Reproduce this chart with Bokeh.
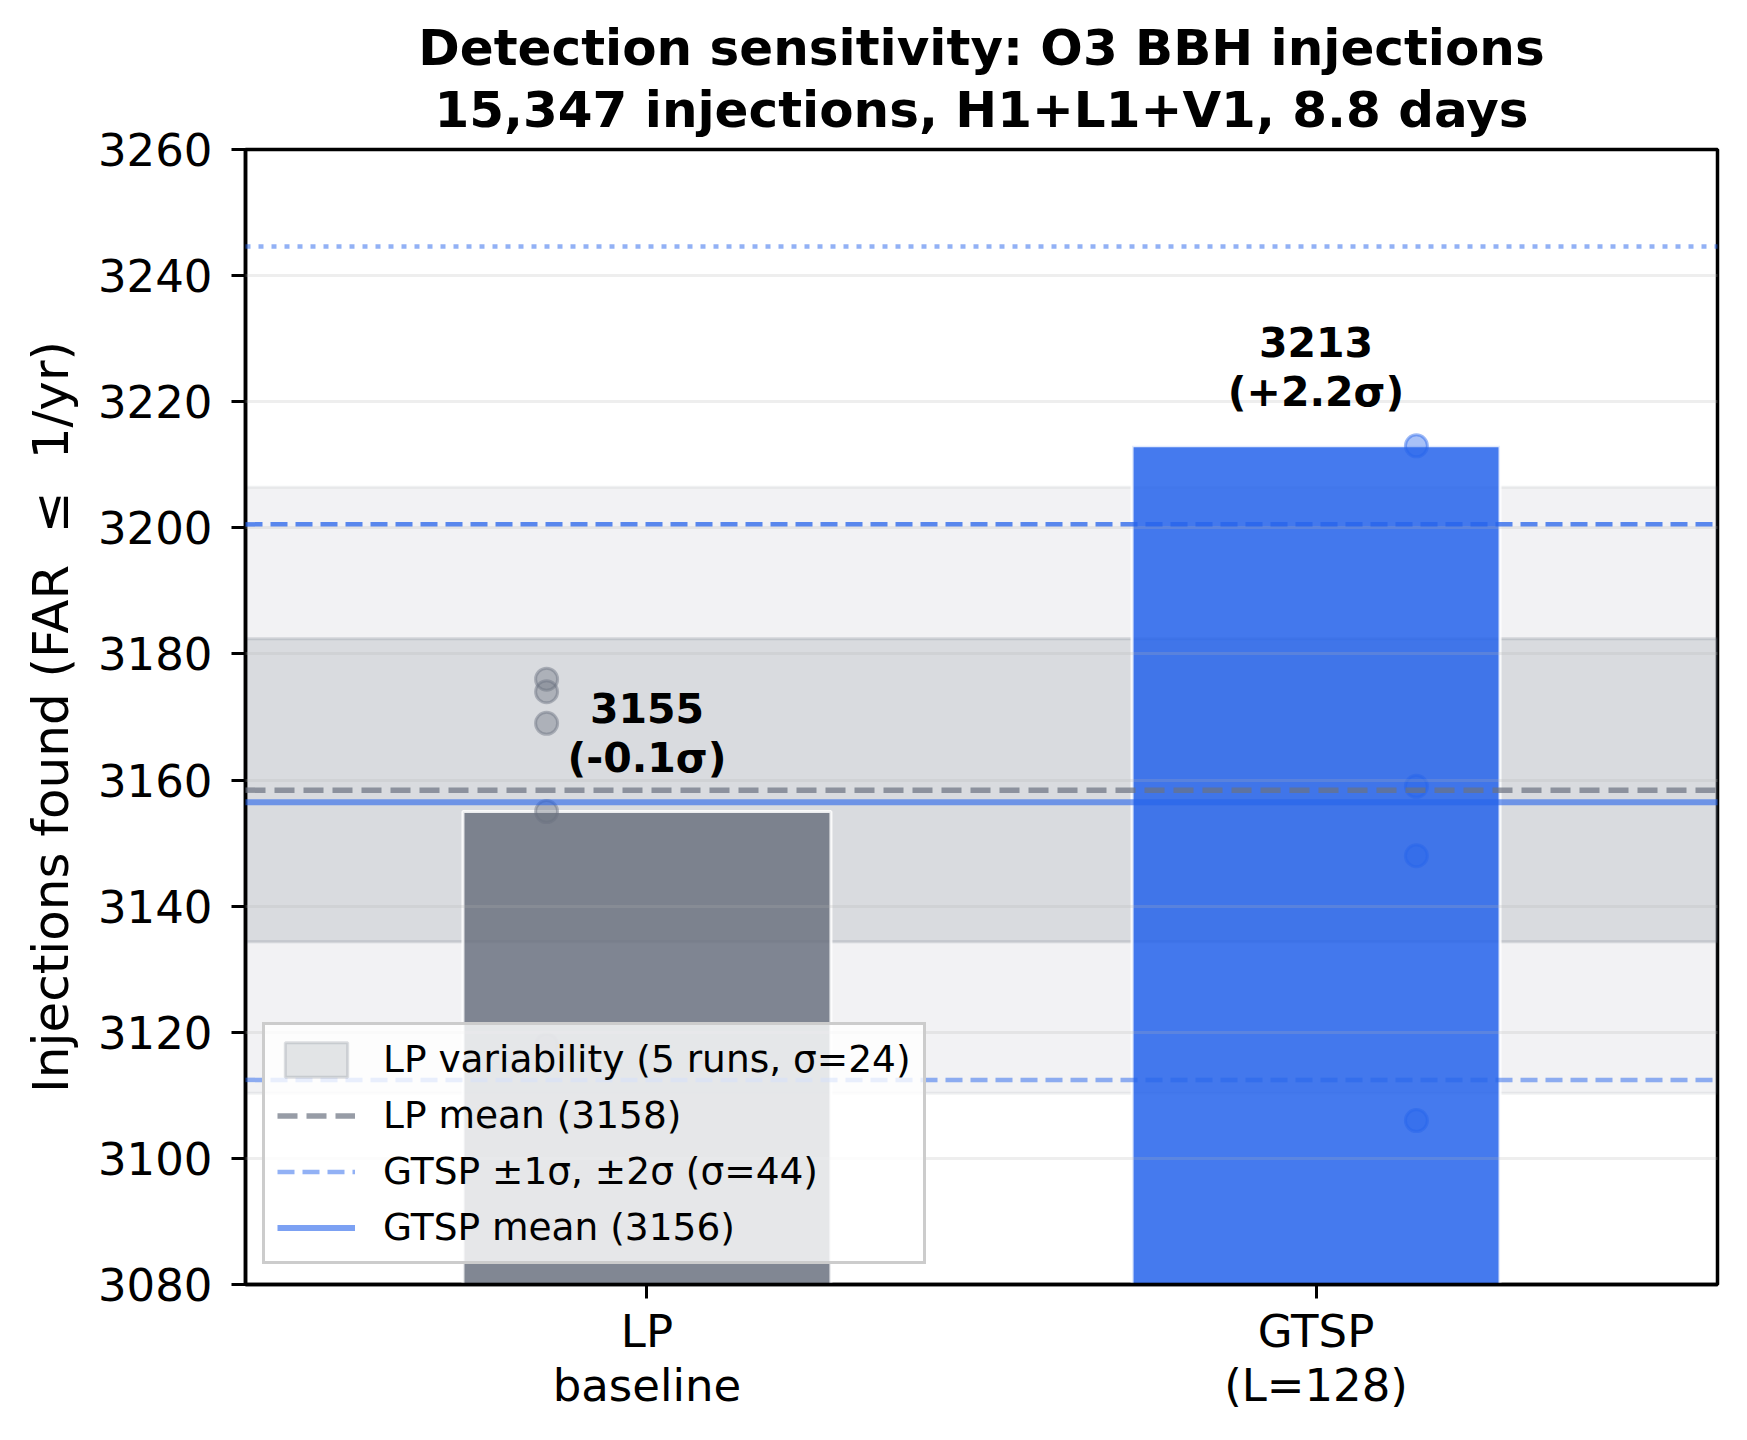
import numpy as np
from bokeh.plotting import figure
from bokeh.models import Range1d, FixedTicker, Legend, LegendItem, Title
from bokeh.embed import file_html
from bokeh.resources import INLINE
from bokeh.core.properties import value

# ---------------- data ----------------
cat_labels = ["LP\nbaseline", "GTSP\n(L=128)"]
cat_pos = [0, 1]
bar_values = [3155, 3213]
bar_labels = ["3155\n(-0.1σ)", "3213\n(+2.2σ)"]
lp_runs = [3176, 3174, 3169, 3155, 3118]
gtsp_runs = [3213, 3159, 3148, 3106]
legend_labels = ["LP variability (5 runs, σ=24)", "LP mean (3158)",
                 "GTSP ±1σ, ±2σ (σ=44)", "GTSP mean (3156)"]
y_ticks = [3080, 3100, 3120, 3140, 3160, 3180, 3200, 3220, 3240, 3260]
title_lines = ["Detection sensitivity: O3 BBH injections",
               "15,347 injections, H1+L1+V1, 8.8 days"]
y_label = "Injections found (FAR\u00a0\u00a0≤\u00a0\u00a01/yr)"

# ---------------- styles ----------------
FONT = "DejaVu Sans"
GRAY = "#6b7280"
BLUE = "#2563eb"
X_LO, X_HI = -0.6, 1.6
Y_LO, Y_HI = 3080, 3260
BAR_W = 0.55
JIT = 0.15

lp_mean = float(np.mean(lp_runs))
lp_sd = float(np.std(lp_runs, ddof=1))
g_mean = float(np.mean(gtsp_runs))
g_sd = float(np.std(gtsp_runs, ddof=1))

p = figure(width=1731, height=1424, x_range=Range1d(X_LO, X_HI),
           y_range=Range1d(Y_LO, Y_HI), output_backend="svg",
           toolbar_location=None, min_border_left=245, min_border_right=14,
           min_border_top=149, min_border_bottom=140)
p.background_fill_color = "white"
p.border_fill_color = "white"
p.outline_line_color = "black"
p.outline_line_width = 3.5
p.outline_line_alpha = 1.0

# titles (last added is the topmost)
t2 = Title(text=title_lines[1], align="center", text_font=FONT,
           text_font_size="50px", text_font_style="bold", text_color="black",
           standoff=21)
t1 = Title(text=title_lines[0], align="center", text_font=FONT,
           text_font_size="50px", text_font_style="bold", text_color="black",
           standoff=-16)
p.add_layout(t2, "above")
p.add_layout(t1, "above")

# bands of LP variability
band2 = p.quad(left=[X_LO], right=[X_HI], bottom=[lp_mean - 2 * lp_sd],
               top=[lp_mean + 2 * lp_sd], fill_color=GRAY, fill_alpha=0.09,
               line_color=GRAY, line_alpha=0.10, line_width=3)
band1 = p.quad(left=[X_LO], right=[X_HI], bottom=[lp_mean - lp_sd],
               top=[lp_mean + lp_sd], fill_color=GRAY, fill_alpha=0.18,
               line_color=GRAY, line_alpha=0.22, line_width=3)

# bars
p.vbar(x=cat_pos, top=bar_values, bottom=0, width=BAR_W,
       fill_color=[GRAY, BLUE], fill_alpha=0.85,
       line_color="white", line_width=3, line_alpha=0.85)

# individual runs
p.scatter(x=[cat_pos[0] - JIT] * len(lp_runs), y=lp_runs, size=22,
          fill_color=GRAY, fill_alpha=0.4, line_color=GRAY, line_alpha=0.45,
          line_width=3)
p.scatter(x=[cat_pos[1] + JIT] * len(gtsp_runs), y=gtsp_runs, size=22,
          fill_color=BLUE, fill_alpha=0.4, line_color=BLUE, line_alpha=0.45,
          line_width=3)

# reference lines
lp_mean_r = p.segment(x0=[X_LO], x1=[X_HI], y0=[lp_mean], y1=[lp_mean],
                      line_color=GRAY, line_alpha=0.7, line_width=5.5,
                      line_dash="20 9", level="annotation")
p.segment(x0=[X_LO], x1=[X_HI], y0=[g_mean + g_sd], y1=[g_mean + g_sd],
          line_color=BLUE, line_alpha=0.75, line_width=4.5,
          line_dash="17 8", level="annotation")
g_sd_r = p.segment(x0=[X_LO], x1=[X_HI], y0=[g_mean - g_sd], y1=[g_mean - g_sd],
                   line_color=BLUE, line_alpha=0.5, line_width=4.5,
                   line_dash="17 8", level="annotation")
p.segment(x0=[X_LO], x1=[X_HI], y0=[g_mean + 2 * g_sd], y1=[g_mean + 2 * g_sd],
          line_color=BLUE, line_alpha=0.5, line_width=4.5,
          line_dash="5 8", level="annotation")
g_mean_r = p.segment(x0=[X_LO], x1=[X_HI], y0=[g_mean], y1=[g_mean],
                     line_color=BLUE, line_alpha=0.6, line_width=6,
                     level="annotation")

# bar value annotations
p.text(x=cat_pos, y=bar_values, text=bar_labels, text_align="center",
       text_baseline="bottom", y_offset=-30, text_font=value(FONT),
       text_font_style="bold", text_font_size="41px", text_line_height=1.02,
       text_color="black", level="annotation")

# axes
p.xaxis.ticker = FixedTicker(ticks=cat_pos)
p.xaxis.major_label_overrides = {cp: lab for cp, lab in zip(cat_pos, cat_labels)}
p.yaxis.ticker = FixedTicker(ticks=y_ticks)
for ax in (p.xaxis[0], p.yaxis[0]):
    ax.axis_line_width = 3.5
    ax.axis_line_color = "black"
    ax.major_tick_line_width = 3
    ax.major_tick_line_color = "black"
    ax.major_tick_out = 14
    ax.major_tick_in = 0
    ax.minor_tick_line_color = None
    ax.major_label_text_font = FONT
    ax.major_label_text_font_size = "45px"
    ax.major_label_text_color = "black"
p.xaxis.major_label_text_line_height = 1.03
p.xaxis.major_label_standoff = 6
p.yaxis.major_label_standoff = 19
p.yaxis.axis_label = y_label
p.yaxis.axis_label_text_font = FONT
p.yaxis.axis_label_text_font_size = "50px"
p.yaxis.axis_label_text_font_style = "normal"
p.yaxis.axis_label_text_color = "black"
p.yaxis.axis_label_standoff = 15

p.xgrid.visible = False
p.ygrid.ticker = FixedTicker(ticks=y_ticks)
p.ygrid.grid_line_color = "#b0b0b0"
p.ygrid.grid_line_alpha = 0.22
p.ygrid.grid_line_width = 3
p.ygrid.level = "guide"

# legend
legend = Legend(items=[
    LegendItem(label=legend_labels[0], renderers=[band1]),
    LegendItem(label=legend_labels[1], renderers=[lp_mean_r]),
    LegendItem(label=legend_labels[2], renderers=[g_sd_r]),
    LegendItem(label=legend_labels[3], renderers=[g_mean_r]),
], location=(17, 20), margin=0, padding=12, spacing=12,
    glyph_width=78, glyph_height=43, label_height=43, label_standoff=28,
    label_text_font=FONT, label_text_font_size="37.5px",
    label_text_color="black",
    background_fill_color="white", background_fill_alpha=0.8,
    border_line_color="#cccccc", border_line_width=3, border_line_alpha=1.0)
legend.level = "overlay"
p.add_layout(legend, "center")

open("out.html", "w").write(file_html(p, INLINE))
